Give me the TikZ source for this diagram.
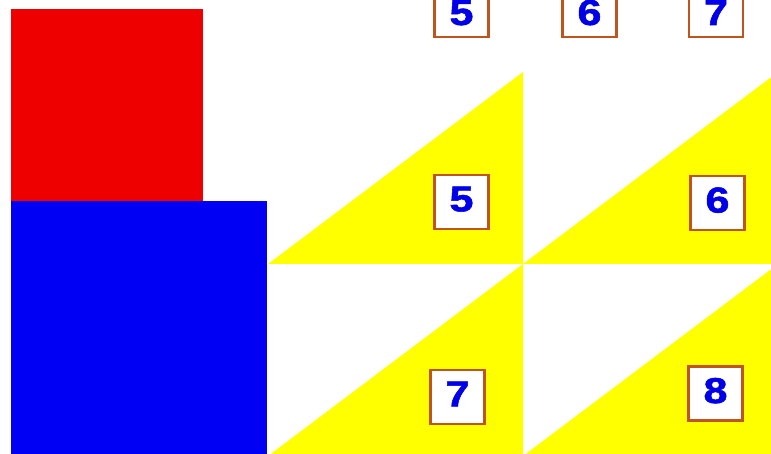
\documentclass[tikz,border=0pt]{standalone}
\usepackage{fontspec}
\setmainfont{Liberation Sans}
\newfontfamily\digitfont[FakeStretch=1.2,FakeBold=1.5]{Liberation Sans Bold}
\usetikzlibrary{positioning}
\definecolor{boxedge}{RGB}{192,84,30}
\definecolor{digitblue}{RGB}{0,0,232}
\definecolor{sqred}{RGB}{238,0,0}
\definecolor{sqblue}{RGB}{0,0,245}
\definecolor{triyellow}{RGB}{255,255,0}

\begin{document}
\begin{tikzpicture}[x=1pt,y=-1pt,
  numbox/.style={draw=boxedge,line width=2.4pt,fill=white,minimum size=54pt,inner sep=0pt,
    font=\digitfont\fontsize{36}{36}\selectfont,text=digitblue,text depth=6pt},
  topbox/.style={numbox,text depth=0pt,text height=30pt}]
\useasboundingbox (0,0) rectangle (771,454);
\clip (0,0) rectangle (771,454);
% squares on the left
\fill[sqred] (11,9) rectangle (203,201);
\fill[sqblue] (11,201) rectangle (267,460);
% yellow triangles
\foreach \x/\y in {268/264, 523/264, 268/456, 523/456}
  \fill[triyellow] (\x,\y) -- ++(255,0) -- ++(0,-192) -- cycle;
% number boxes, top row
\node[topbox] (top5) at (461.5,10) {5};
\node[topbox] (top6) at (589.5,10) {6};
\node[topbox] (top7) at (716,10) {7};
% number boxes on the triangles
\node[numbox] (tri5) at (461.5,202) {5};
\node[numbox] (tri6) at (717.5,203) {6};
\node[numbox] (tri7) at (457.5,397) {7};
\node[numbox] (tri8) at (715.5,393.5) {8};
\end{tikzpicture}
\end{document}
